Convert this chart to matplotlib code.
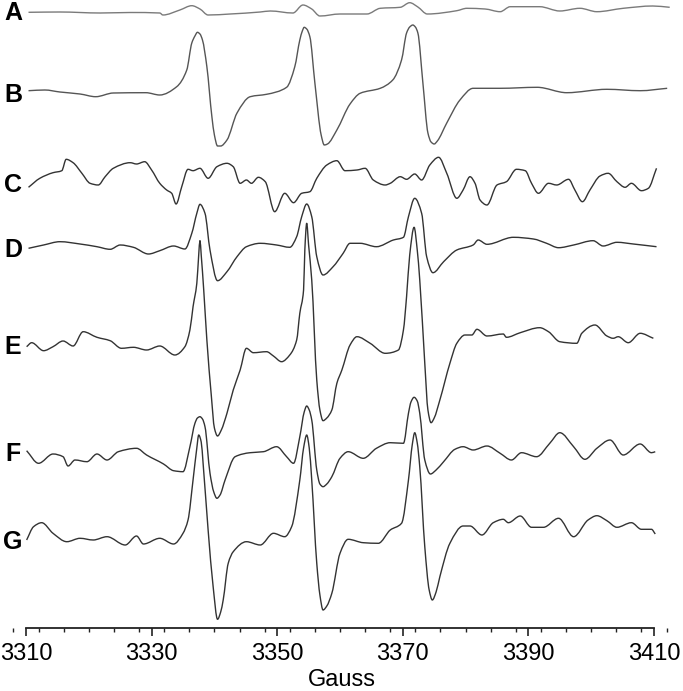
import matplotlib
matplotlib.use("Agg")
import matplotlib.pyplot as plt
from matplotlib.ticker import MultipleLocator
from matplotlib.path import Path
from matplotlib.patches import PathPatch

plt.rcParams['font.family'] = ['Liberation Sans', 'DejaVu Sans']

# ---------------- data (field in Gauss, signal in arbitrary units) ----------------
labels = ["A", "B", "C", "D", "E", "F", "G"]

A_field = [3310.4, 3315.4, 3321.8, 3326.6, 3331.3, 3331.8, 3334.5, 3336.4, 3337.7, 3339.0,
           3342.5, 3347.3, 3348.9, 3352.5, 3354.1, 3355.5, 3356.8, 3360.0, 3364.3, 3366.4,
           3369.6, 3371.1, 3372.4, 3373.9, 3378.6, 3380.2, 3383.1, 3385.5, 3387.1, 3391.8,
           3395.0, 3398.2, 3400.9, 3405.1, 3409.8, 3412.5]
A_signal = [-0.3, 0, -1, -0.5, -1, -3, 2, 6.3, 3, -3,
            -2, 0, 1, -1, 7, 3, -4, -2, -2, 3.7,
            4.7, 9.3, 5, -2, 1.3, 3.7, 3, 0.3, 5.3, 5.3,
            1, 3.7, 0.3, 3.7, 6, 4.7]

B_field = [3310.4, 3313.0, 3315.4, 3318.6, 3321.1, 3323.9, 3329.1, 3331.3, 3334.0, 3335.6,
           3336.4, 3336.9, 3337.3, 3337.7, 3338.1, 3338.8, 3339.6, 3340.0, 3340.5, 3341.0,
           3342.0, 3343.6, 3345.7, 3348.3, 3351.5, 3352.8, 3353.6, 3354.0, 3354.3, 3354.7,
           3355.2, 3356.0, 3357.0, 3357.5, 3358.0, 3359.5, 3361.6, 3363.2, 3366.4, 3368.4,
           3369.8, 3370.6, 3371.1, 3371.6, 3372.0, 3372.4, 3373.2, 3374.0, 3374.5, 3375.0,
           3375.5, 3377.0, 3379.1, 3381.2, 3385.5, 3391.4, 3396.1, 3402.5, 3407.8, 3412.1]
B_signal = [-0.7, 0, -2, -4, -6.7, -3, -2.7, -5, 3.3, 20,
            47, 54, 57.7, 56, 50, 23.3, -26.7, -45, -56, -56,
            -50, -23, -6.7, -4.3, 2.7, 23.3, 50, 59, 62.7, 61,
            53.3, 7, -45, -55, -54, -40, -14, -3.3, 1.7, 10,
            30, 57, 63, 65, 63, 57, 7, -43, -52, -54,
            -51, -33, -10, 1.7, 1.7, 2.7, -2.7, 0.7, -0.7, 1.7]

C_field = [3310.4, 3312.2, 3314.3, 3315.7, 3316.4, 3317.5, 3318.9, 3320.2, 3321.5, 3322.6,
           3323.9, 3326.6, 3327.6, 3328.9, 3330.0, 3331.3, 3332.4, 3333.2, 3333.9, 3334.8,
           3335.8, 3336.6, 3337.7, 3339.0, 3340.4, 3342.0, 3343.0, 3344.1, 3345.1, 3345.9,
           3347.0, 3348.1, 3349.6, 3351.2, 3352.6, 3353.9, 3355.2, 3356.3, 3357.9, 3359.5,
           3360.8, 3362.7, 3364.0, 3365.3, 3367.2, 3368.0, 3369.6, 3370.6, 3371.9, 3373.0,
           3374.3, 3375.7, 3377.0, 3378.6, 3379.6, 3380.7, 3381.5, 3382.3, 3383.4, 3385.0,
           3386.5, 3388.1, 3389.5, 3390.5, 3391.6, 3393.2, 3394.5, 3396.4, 3397.4, 3398.6,
           3399.8, 3401.4, 3402.7, 3404.1, 3405.4, 3406.4, 3408.0, 3409.1, 3410.4]
C_signal = [-7.3, 1.7, 7.3, 9.3, 20.7, 17.3, 6.7, -3.3, -5, 3.3,
            11.7, 17.3, 16, 18.3, 10, -3.3, -10, -13.3, -24, -6.7,
            10.7, 9.3, 11.7, 1.7, 13.3, 16.7, 13.3, -3.3, 0, -3.3,
            2.7, -1.7, -31.7, -13.3, -22.7, -13.3, -11.7, 1.7, 15, 19.3,
            9.3, 10, 11.7, 0, -5, -3.3, 3.3, 0.7, 6, 0,
            15, 22.7, 6.7, -18.3, -10, 3.3, -3.3, -20, -25, -5,
            -1.7, 10.7, 9.3, -3.3, -13.3, -3.3, -5, 0.7, -10, -21.7,
            -10, 4, 6.7, -1.7, -7.3, -3.3, -10.7, -8.3, 11.7]

D_field = [3310.4, 3312.8, 3315.4, 3318.6, 3321.3, 3323.4, 3325.0, 3327.1, 3329.5, 3331.3,
           3333.5, 3335.3, 3336.4, 3337.2, 3337.7, 3338.5, 3339.3, 3340.5, 3342.0, 3343.6,
           3345.1, 3347.3, 3349.9, 3352.0, 3353.1, 3353.9, 3354.7, 3355.5, 3356.3, 3357.3,
           3358.9, 3360.5, 3361.6, 3363.2, 3365.8, 3368.5, 3370.1, 3370.9, 3371.9, 3373.0,
           3373.8, 3374.8, 3376.5, 3378.6, 3381.2, 3382.0, 3383.4, 3387.6, 3390.8, 3392.9,
           3394.8, 3397.2, 3400.3, 3401.9, 3404.1, 3406.7, 3410.4]
D_signal = [-2.3, 1, 4.3, 2, -0.7, -3.3, 1, -1.3, -8, -4.7,
            0, -3, 12.7, 32.7, 41.7, 32.7, -4, -34.7, -25.7, -10.7,
            -0.7, 2.7, 1, -1.3, 9.3, 29.3, 42, 29.3, -10.7, -29,
            -20.7, -7.3, 2.7, 2.7, -0.7, 6, 8.7, 29.3, 47.7, 32.7,
            -10.7, -26.7, -15.7, -4, 1, 6, 1.7, 8.7, 7, 2.7,
            -1.7, 1, 5.3, 0, 3.7, 2, -0.7]

E_field = [3310.1, 3310.9, 3312.8, 3314.3, 3315.9, 3317.5, 3319.1, 3321.3, 3323.4, 3325.2,
           3327.1, 3329.2, 3331.3, 3333.7, 3335.3, 3336.1, 3336.6, 3337.2, 3337.5, 3337.7,
           3337.9, 3338.3, 3338.8, 3339.5, 3340.0, 3340.5, 3341.1, 3342.0, 3343.0, 3344.1,
           3345.1, 3346.2, 3348.3, 3349.4, 3350.7, 3352.0, 3353.1, 3353.6, 3354.2, 3354.4,
           3354.7, 3355.0, 3355.5, 3356.3, 3356.8, 3357.3, 3357.9, 3358.7, 3359.5, 3360.3,
           3361.6, 3362.7, 3364.8, 3367.2, 3369.3, 3370.1, 3370.6, 3371.1, 3371.8, 3372.3,
           3372.7, 3373.5, 3374.0, 3374.5, 3375.0, 3375.9, 3377.5, 3378.6, 3379.9, 3381.0,
           3381.8, 3383.4, 3386.0, 3386.5, 3388.7, 3391.8, 3393.2, 3395.0, 3397.7, 3398.5,
           3400.6, 3402.5, 3403.5, 3404.3, 3405.9, 3407.8, 3409.9]
E_signal = [-1.7, 2.3, -5.7, -1.7, 4, -1, 13.3, 7.7, 4.3, -3.3,
            -2.3, -5, -1, -10, -1.7, 15, 38.3, 61.7, 90, 104.3,
            90, 55, 5, -50, -83, -91, -85, -68.3, -45, -25,
            -3.3, -7.7, -6.7, -11, -16.7, -10, 5, 31.7, 55, 95,
            121.7, 100, 65, -35, -65, -75.7, -73, -65, -38.3, -25,
            0, 8.3, 1.7, -8.3, -5, 15, 48.3, 90, 117.7, 95,
            65, -18.3, -65, -77.7, -73, -55, -18.3, 1.7, 10, 10,
            15.7, 9, 11, 7.7, 12.3, 17.3, 13.3, 3.3, 1.7, 11.7,
            20, 9, 6.7, 8.3, 2.3, 11.7, 6.7]

F_field = [3310.1, 3312.0, 3314.3, 3315.9, 3316.7, 3317.8, 3319.7, 3321.3, 3322.9, 3324.7,
           3327.6, 3329.2, 3331.9, 3333.5, 3335.0, 3336.1, 3336.9, 3337.3, 3337.7, 3338.1,
           3338.5, 3339.3, 3339.9, 3340.4, 3340.9, 3341.7, 3343.3, 3345.7, 3347.8, 3349.9,
           3351.5, 3352.6, 3353.6, 3354.3, 3354.7, 3355.1, 3355.5, 3356.3, 3356.8, 3357.3,
           3357.9, 3358.7, 3360.0, 3361.3, 3363.7, 3365.8, 3368.0, 3370.1, 3370.9, 3371.3,
           3371.8, 3372.3, 3372.7, 3373.5, 3374.4, 3375.3, 3376.5, 3378.3, 3379.6, 3381.2,
           3383.4, 3385.5, 3387.3, 3388.9, 3391.3, 3393.4, 3395.0, 3397.2, 3399.0, 3400.9,
           3403.0, 3405.1, 3407.8, 3409.6, 3410.2]
F_signal = [4.3, -8.3, 1, -1.7, -11, -5, -6.7, 1, -5, 3.3,
            6.7, 0, -9, -15.7, -16.7, 8.3, 31.7, 37, 38.3, 36,
            28.3, -18.3, -37, -43.3, -40, -25, -1.7, 2.3, 3.3, 8.3,
            -1.7, -8.3, 18.3, 43, 49, 45, 35, -15, -29, -31.7,
            -29, -21.7, -3.3, 3.3, -3.3, 6.7, 12.3, 11.7, 41.7, 53,
            57.7, 54, 41.7, -5, -19, -15, -6.7, 5.7, 8.3, 5,
            9, 1.7, -5, 2.3, -1.7, 11.7, 22.3, 8.3, -4.3, 6.7,
            15, 0, 11, 2.3, 3.3]

G_field = [3310.1, 3311.2, 3312.5, 3314.3, 3316.5, 3318.6, 3320.7, 3322.9, 3325.8, 3327.6,
           3328.7, 3331.3, 3333.5, 3335.0, 3335.8, 3336.6, 3337.2, 3337.5, 3337.9, 3338.2,
           3339.0, 3339.8, 3340.5, 3341.0, 3341.4, 3342.2, 3343.0, 3345.1, 3347.3, 3349.4,
           3351.2, 3352.3, 3353.6, 3354.2, 3354.7, 3355.1, 3355.5, 3356.3, 3356.8, 3357.3,
           3357.9, 3358.7, 3360.0, 3361.3, 3363.7, 3366.1, 3368.0, 3369.8, 3370.9, 3371.5,
           3371.9, 3372.3, 3372.7, 3373.5, 3374.2, 3374.7, 3375.3, 3375.9, 3377.5, 3379.6,
           3380.7, 3382.6, 3384.4, 3386.0, 3386.8, 3388.7, 3390.5, 3392.4, 3394.8, 3397.2,
           3399.5, 3400.9, 3402.5, 3404.1, 3406.4, 3408.0, 3409.6, 3410.2]
G_signal = [-2, 11.3, 15.3, 4.7, -3.7, -0.3, -2, 1.3, -7, 2,
            -6, -0.3, -6, 4.7, 18, 58, 90, 103, 96, 74.7,
            8, -48.7, -81.3, -74, -62, -25.3, -13.7, -3.7, -7, 4.7,
            1.3, 11.3, 58, 90, 103, 90, 58, -25.3, -57, -72,
            -68, -55.3, -15.3, -1.3, -4.7, -5.3, 8, 14.7, 58, 93,
            105.3, 95, 71.3, -8.7, -52, -62, -54, -38.7, -5.3, 12,
            12, 3, 15.3, 18.7, 15.3, 22, 10.7, 10.7, 19.7, 1.3,
            18, 22.3, 17.3, 10.7, 15.3, 8.7, 8.7, 4]

tick_values = [3310, 3330, 3350, 3370, 3390, 3410]

fields = [A_field, B_field, C_field, D_field, E_field, F_field, G_field]
signals = [A_signal, B_signal, C_signal, D_signal, E_signal, F_signal, G_signal]

# ---------------- layout ----------------
W, H = 683, 691
axis_row = 628
baselines = [12, 90, 180, 246, 345, 455, 538]
label_rows = [13, 95, 185, 250, 347, 454, 542]
colors = ["#7a7a7a", "#555555", "#333333", "#333333", "#333333", "#333333", "#333333"]


def smooth_path(xs, ys):
    """Cubic Bezier path through the read points (monotone Hermite tangents)."""
    n = len(xs)
    h = [xs[i + 1] - xs[i] for i in range(n - 1)]
    d = [(ys[i + 1] - ys[i]) / h[i] for i in range(n - 1)]
    m = [0.0] * n
    m[0], m[-1] = d[0], d[-1]
    for i in range(1, n - 1):
        if d[i - 1] * d[i] <= 0:
            m[i] = 0.0
        else:
            w1 = 2 * h[i] + h[i - 1]
            w2 = h[i] + 2 * h[i - 1]
            m[i] = (w1 + w2) / (w1 / d[i - 1] + w2 / d[i])
    verts = [(xs[0], ys[0])]
    codes = [Path.MOVETO]
    for i in range(n - 1):
        verts += [(xs[i] + h[i] / 3, ys[i] + m[i] * h[i] / 3),
                  (xs[i + 1] - h[i] / 3, ys[i + 1] - m[i + 1] * h[i] / 3),
                  (xs[i + 1], ys[i + 1])]
        codes += [Path.CURVE4] * 3
    return Path(verts, codes)


fig = plt.figure(figsize=(W / 100, H / 100), dpi=100)
ax = fig.add_axes([0, (H - axis_row) / H, 1, axis_row / H])
ax.set_xlim(3310 - 26 / 6.28, 3310 + (W - 26) / 6.28)
ax.set_ylim(-axis_row, 0)

for f, s, b, c in zip(fields, signals, baselines, colors):
    p = smooth_path(f, [v - b for v in s])
    ax.add_patch(PathPatch(p, fill=False, edgecolor=c, lw=1.0, joinstyle='round'))

for lab, r in zip(labels, label_rows):
    fig.text(13 / W, 1 - r / H, lab, ha='center', va='center',
             fontsize=18, fontweight='bold', color='black')

for side in ['left', 'right', 'top']:
    ax.spines[side].set_visible(False)
ax.spines['bottom'].set_bounds(3310, 3410)
ax.spines['bottom'].set_linewidth(1.3)
ax.spines['bottom'].set_color('#222222')
ax.set_yticks([])
ax.set_xticks(tick_values)
ax.xaxis.set_minor_locator(MultipleLocator(4))
ax.tick_params(axis='x', which='major', length=5.5, width=1.2, direction='out',
               labelsize=17, pad=5.5, color='#222222')
ax.tick_params(axis='x', which='minor', length=3.1, width=1.0, direction='out',
               color='#222222')
ax.set_xlabel("Gauss", fontsize=17, labelpad=3)

fig.savefig("out.png", dpi=100)
